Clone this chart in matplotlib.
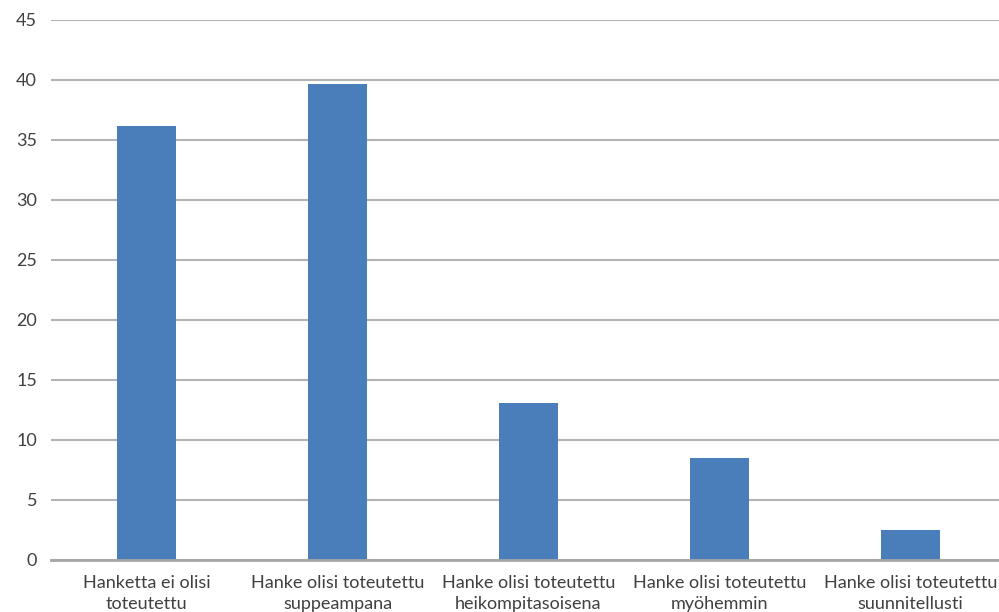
import matplotlib
matplotlib.use('Agg')
import matplotlib.pyplot as plt

# Vastausten jakauma (%)
kategoriat = [
    'Hanketta ei olisi\ntoteutettu',
    'Hanke olisi toteutettu\nsuppeampana',
    'Hanke olisi toteutettu\nheikompitasoisena',
    'Hanke olisi toteutettu\nmyöhemmin',
    'Hanke olisi toteutettu\nsuunnitellusti',
]
arvot = [36.2, 39.7, 13.1, 8.5, 2.5]
y_ticks = [0, 5, 10, 15, 20, 25, 30, 35, 40, 45]

plt.rcParams['font.family'] = ['Lato', 'DejaVu Sans']

fig = plt.figure(figsize=(9.99, 6.12), dpi=100)
ax = fig.add_axes([51 / 999, 52 / 612, 955 / 999, 540 / 612])

x = range(len(kategoriat))
ax.bar(x, arvot, width=0.314, color='#4A7EBB', zorder=3)

ax.set_xlim(-0.5, len(kategoriat) - 0.5)
ax.set_ylim(0, 45)
ax.set_yticks(y_ticks)
ax.set_xticks(list(x))
ax.set_xticklabels(kategoriat, fontsize=13, color='#404040', linespacing=1.35)

ax.grid(axis='y', color='#B3B3B3', linewidth=1.5, zorder=0)
for s in ['top', 'right', 'left']:
    ax.spines[s].set_visible(False)
ax.spines['bottom'].set_color('#A6A6A6')
ax.spines['bottom'].set_linewidth(2)
ax.spines['bottom'].set_zorder(4)
ax.tick_params(axis='y', length=0, pad=10, labelsize=13, labelcolor='#404040')
ax.tick_params(axis='x', length=0, pad=11)

fig.savefig('out.png', dpi=100)
